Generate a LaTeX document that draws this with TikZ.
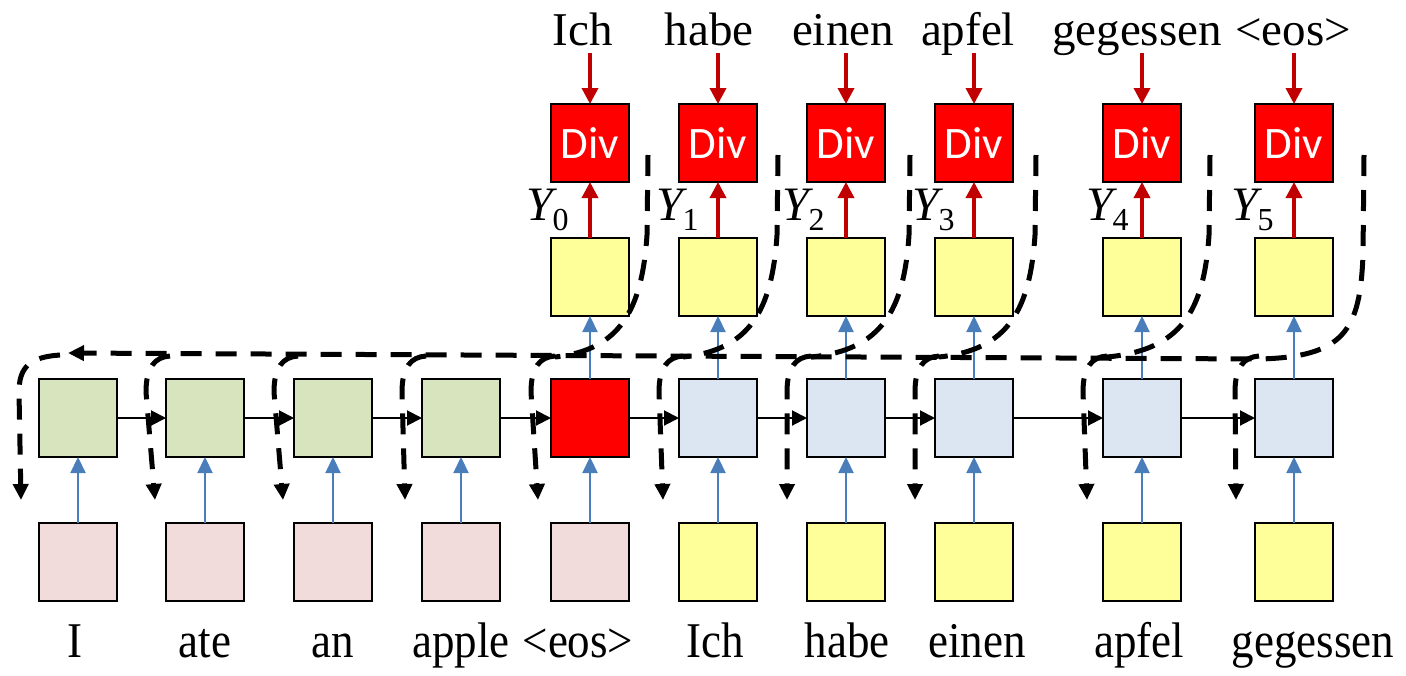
\documentclass[tikz,border=0pt]{standalone}
\usepackage{fontspec}
\setmainfont{Liberation Serif}
\newfontfamily\divfont{Carlito}
\newfontfamily\condserif[FakeStretch=0.9]{Liberation Serif}
\usetikzlibrary{arrows.meta}
\definecolor{rnngreen}{HTML}{D7E4BD}
\definecolor{inpink}{HTML}{F2DCDB}
\definecolor{yel}{HTML}{FFFF99}
\definecolor{decblue}{HTML}{DCE6F2}
\definecolor{arrblue}{HTML}{4A7EBB}
\definecolor{darkred}{HTML}{C00000}
\begin{document}
\begin{tikzpicture}[x=1pt,y=-1pt,
  box/.style={draw=black,line width=2.5pt,minimum width=78pt,minimum height=78pt,inner sep=0pt,outer sep=0pt},
  divbox/.style={box,fill=red,text=white,font=\divfont\fontsize{45}{54}\selectfont},
  tword/.style={inner sep=0pt,outer sep=0pt,text depth=0pt,anchor=base,font=\fontsize{47}{56}\selectfont},
  bword/.style={inner sep=0pt,outer sep=0pt,anchor=base,font=\condserif\fontsize{50}{60}\selectfont},
  ylab/.style={inner sep=0pt,outer sep=0pt,anchor=base west,font=\fontsize{48}{56}\selectfont\itshape},
  redarr/.style={draw=darkred,line width=3.5pt,-{Triangle[length=16pt,width=16pt]}},
  bluearr/.style={draw=arrblue,line width=2.2pt,-{Triangle[length=16pt,width=15pt]}},
  blkarr/.style={draw=black,line width=2pt,-{Triangle[length=15pt,width=15pt]}},
  dashln/.style={draw=black,line width=5pt,dash pattern=on 21pt off 14pt},
  dtip/.style={-{Triangle[length=16pt,width=15pt]}}
]
\useasboundingbox (0,0) rectangle (1406,675);

% input boxes
\foreach \i/\x/\c in {0/78/inpink,1/205/inpink,2/333/inpink,3/461/inpink,4/590/inpink,
  5/718/yel,6/846/yel,7/974/yel,8/1142/yel,9/1294/yel}
  \node[box,fill=\c] (in\i) at (\x,562) {};

% recurrent boxes
\foreach \i/\x/\c in {0/78/rnngreen,1/205/rnngreen,2/333/rnngreen,3/461/rnngreen,4/590/red,
  5/718/decblue,6/846/decblue,7/974/decblue,8/1142/decblue,9/1294/decblue}
  \node[box,fill=\c] (rnn\i) at (\x,418) {};

% output boxes and divergence boxes
\foreach \i/\x in {4/590,5/718,6/846,7/974,8/1142,9/1294}{
  \node[box,fill=yel] (yel\i) at (\x,277) {};
  \node[divbox] (div\i) at (\x,143) {Div};
}

% top words
\foreach \i/\x/\w in {4/583/Ich,5/709/habe,6/843/einen,7/968/apfel,8/1137/gegessen,9/1293/<eos>}
  \node[tword] (wt\i) at (\x,45) {\w};

% bottom words
\foreach \i/\x/\w in {0/75/I,1/205/ate,2/333/an,3/461/apple,4/578/<eos>,5/715/Ich,6/847/habe,7/977/einen,8/1139/apfel,9/1313/gegessen}
  \node[bword] (wb\i) at (\x,657) {\w};

% Y labels
\foreach \i/\x in {0/526,1/656,2/782,3/912,4/1086,5/1231}
  \node[ylab] (ylab\i) at (\x,220) {Y\raisebox{-10pt}{\fontsize{32}{38}\selectfont\upshape\i}};

% arrows
\foreach \i in {0,...,9}
  \draw[bluearr] (in\i) -- (rnn\i);
\foreach \i in {4,...,9}{
  \draw[bluearr] (rnn\i) -- (yel\i);
  \draw[redarr] (yel\i) -- (div\i);
  \draw[redarr] (div\i.north |- wt\i.south) ++(0,8) -- (div\i.north);
}
\foreach \i/\j in {0/1,1/2,2/3,3/4,4/5,5/6,6/7,7/8,8/9}
  \draw[blkarr] (rnn\i) -- (rnn\j);

% dashed feedback paths
\draw[dashln,dtip] (1364,155) -- (1363,255) .. controls (1360,330) and (1345,357) .. (1259,359) -- (68,353);
\foreach \xs/\bl in {648/550,778/678,910/806,1036/934,1210/1102}
  \draw[dashln] (\xs,155) -- ({\xs-1},235) .. controls ({\xs-6},310) and ({\xs-28},350) .. ({\bl+5},357);
\draw[dashln,dtip] (60,355) .. controls (30,357) and (19,367) .. (19,392) -- (21,500);
\foreach \bl/\ax in {165/155,293/283,421/405,550/538,678/663,806/787,934/915,1102/1087,1254/1236}
  \draw[dashln,dtip] ({\bl+5},356) .. controls ({\bl-10},357) and ({\bl-19},367) .. ({\bl-19},392) -- (\ax,500);
\end{tikzpicture}
\end{document}
